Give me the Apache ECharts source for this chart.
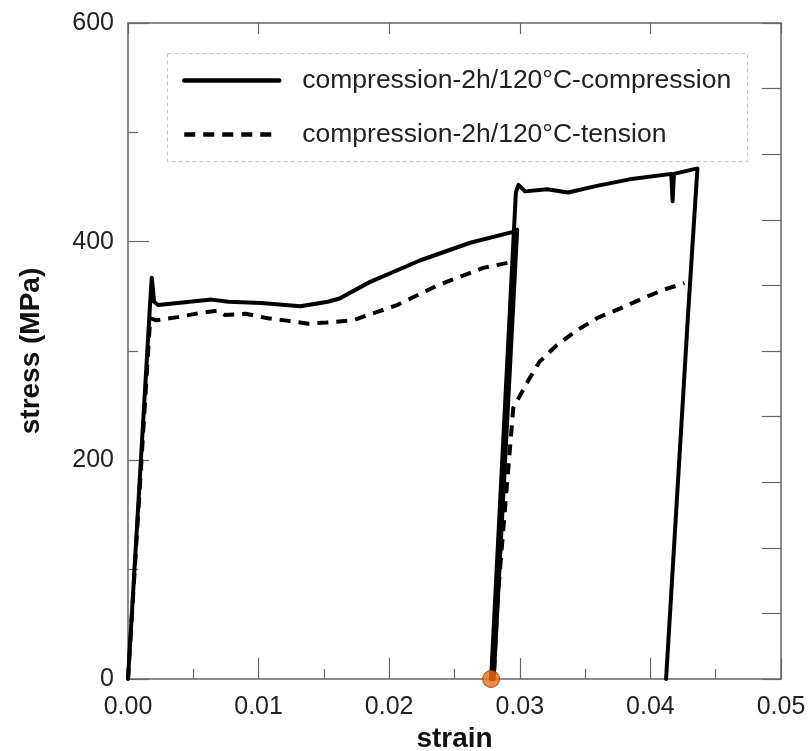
<!DOCTYPE html>
<html>
<head>
<meta charset="utf-8">
<script src="https://cdn.jsdelivr.net/npm/echarts@6/dist/echarts.min.js"></script>
<style>
html,body{margin:0;padding:0;background:#fff;}
#chart{width:811px;height:751px;}
</style>
</head>
<body>
<div id="chart"></div>
<script>
// ---- data ----
const seriesNames = ['compression-2h/120\u00B0C-compression', 'compression-2h/120\u00B0C-tension'];

const compStrain = [0, 0.0017, 0.00182, 0.0020, 0.0023, 0.0038, 0.0064, 0.0077, 0.0102, 0.0132, 0.0153, 0.0162, 0.0185, 0.0224, 0.0262, 0.0295, 0.0298, 0.0280, 0.0278, 0.0297, 0.0299, 0.0304, 0.0321, 0.0337, 0.0359, 0.0384, 0.0416, 0.0417, 0.0418, 0.0436, 0.0429, 0.0412];
const compStress = [0, 345, 367, 345, 342, 344, 347, 345, 344, 341, 345, 348, 363, 383, 399, 409, 411, 0, 0, 445, 452, 446, 448, 445, 451, 457, 462, 437, 462, 467, 337, 0];

const tensStrain = [0, 0.0017, 0.00215, 0.0038, 0.0056, 0.0069, 0.0074, 0.0090, 0.0107, 0.0120, 0.0138, 0.0152, 0.0172, 0.0206, 0.0237, 0.0272, 0.0292, 0.0296, 0.0280, 0.0278, 0.0295, 0.0306, 0.0315, 0.0328, 0.0344, 0.0359, 0.0377, 0.0394, 0.0410, 0.0426];
const tensStress = [0, 330, 328, 331, 335, 337, 333, 334, 330, 328, 325, 326, 328, 342, 360, 376, 381, 383, 0, 0, 248, 272, 290, 305, 319, 330, 339, 348, 356, 362];

const markerStrain = [0.0278];
const markerStress = [0];

const xTicks = {min: 0, max: 0.05, interval: 0.01};
const yTicks = {min: 0, max: 600, interval: 200};
const yRightInterval = 60;

// ---- chart ----
const zip = (a, b) => a.map((v, i) => [v, b[i]]);
const FONT = '"Liberation Sans", Arial, sans-serif';
const axisGray = '#666';

const chart = echarts.init(document.getElementById('chart'), null, {renderer: 'canvas'});
chart.setOption({
  animation: false,
  backgroundColor: '#fff',
  grid: {left: 128, right: 30, top: 23, bottom: 72, containLabel: false, outerBoundsMode: 'none'},
  legend: {
    orient: 'vertical',
    left: 177, top: 62,
    itemWidth: 95, itemHeight: 22, itemGap: 27,
    data: seriesNames,
    selectedMode: false,
    itemStyle: {opacity: 0},
    lineStyle: {width: 4.5},
    textStyle: {fontFamily: FONT, fontSize: 26.5, color: '#222', padding: [0, 0, 0, 18]}
  },
  graphic: [{
    type: 'rect', left: 165, top: 51, silent: true,
    shape: {width: 580, height: 108},
    style: {fill: 'none', stroke: '#c8c8c8', lineWidth: 1, lineDash: [4, 3]}
  }],
  xAxis: [{
    type: 'value', min: xTicks.min, max: xTicks.max, interval: xTicks.interval,
    position: 'bottom',
    name: 'strain', nameLocation: 'middle', nameGap: 38,
    nameTextStyle: {fontFamily: FONT, fontSize: 28, fontWeight: 'bold', color: '#111'},
    axisLine: {show: true, onZero: false, lineStyle: {color: axisGray, width: 1.5}},
    axisTick: {show: true, inside: true, length: 21, lineStyle: {color: axisGray, width: 1.2}},
    minorTick: {show: true, splitNumber: 2, length: 10, lineStyle: {color: axisGray, width: 1.2}},
    axisLabel: {fontFamily: FONT, fontSize: 25, color: '#222', margin: 16, formatter: v => v.toFixed(2)},
    splitLine: {show: false}
  }, {
    type: 'value', min: xTicks.min, max: xTicks.max, interval: xTicks.interval,
    position: 'top',
    axisLine: {show: true, onZero: false, lineStyle: {color: axisGray, width: 1.5}},
    axisTick: {show: true, inside: true, length: 11, lineStyle: {color: axisGray, width: 1.2}},
    axisLabel: {show: false},
    splitLine: {show: false}
  }],
  yAxis: [{
    type: 'value', min: yTicks.min, max: yTicks.max, interval: yTicks.interval,
    position: 'left',
    name: 'stress (MPa)', nameLocation: 'middle', nameGap: 83, nameRotate: 90,
    nameTextStyle: {fontFamily: FONT, fontSize: 28, fontWeight: 'bold', color: '#111'},
    axisLine: {show: true, onZero: false, lineStyle: {color: axisGray, width: 1.5}},
    axisTick: {show: true, inside: true, length: 21, lineStyle: {color: axisGray, width: 1.2}},
    minorTick: {show: true, splitNumber: 2, length: 10, lineStyle: {color: axisGray, width: 1.2}},
    axisLabel: {fontFamily: FONT, fontSize: 25, color: '#222', margin: 14},
    splitLine: {show: false}
  }, {
    type: 'value', min: yTicks.min, max: yTicks.max, interval: yRightInterval,
    position: 'right',
    axisLine: {show: true, onZero: false, lineStyle: {color: axisGray, width: 1.5}},
    axisTick: {show: true, inside: true, length: 19, lineStyle: {color: axisGray, width: 1.2}},
    axisLabel: {show: false},
    splitLine: {show: false}
  }],
  series: [{
    name: seriesNames[0], type: 'line', xAxisIndex: 0, yAxisIndex: 0,
    data: zip(compStrain, compStress),
    symbol: 'none', clip: false,
    lineStyle: {color: '#000', width: 4, type: 'solid', cap: 'round', join: 'round'},
    itemStyle: {color: '#000'}
  }, {
    name: seriesNames[1], type: 'line', xAxisIndex: 0, yAxisIndex: 0,
    data: zip(tensStrain, tensStress),
    symbol: 'none', clip: false,
    lineStyle: {color: '#000', width: 4, type: [11, 8]},
    itemStyle: {color: '#000'}
  }, {
    name: 'marker', type: 'scatter', xAxisIndex: 0, yAxisIndex: 0,
    data: zip(markerStrain, markerStress),
    symbol: 'circle', symbolSize: 17, clip: false, z: 5,
    itemStyle: {color: '#f26d12', borderColor: '#8a3c05', borderWidth: 1}
  }]
});
</script>
</body>
</html>
